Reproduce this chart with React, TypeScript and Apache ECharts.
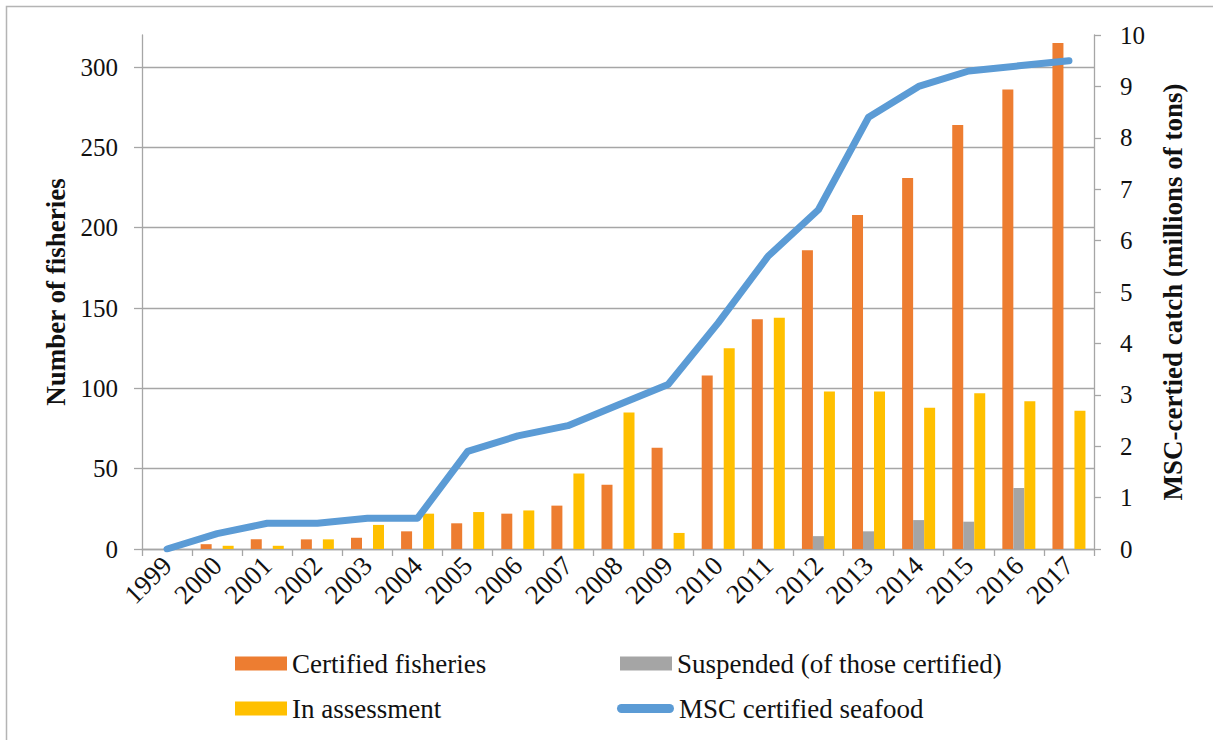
import React, { useEffect, useRef } from "react";
import * as echarts from "echarts";

const years = ["1999", "2000", "2001", "2002", "2003", "2004", "2005", "2006", "2007", "2008", "2009", "2010", "2011", "2012", "2013", "2014", "2015", "2016", "2017"];
const certified = [0, 3, 6, 6, 7, 11, 16, 22, 27, 40, 63, 108, 143, 186, 208, 231, 264, 286, 315];
const suspended = [0, 0, 0, 0, 0, 0, 0, 0, 0, 0, 0, 0, 0, 8, 11, 18, 17, 38, 0];
const inAssessment = [0, 2, 2, 6, 15, 22, 23, 24, 47, 85, 10, 125, 144, 98, 98, 88, 97, 92, 86];
const catchMt = [0, 0.3, 0.5, 0.5, 0.6, 0.6, 1.9, 2.2, 2.4, 2.8, 3.2, 4.4, 5.7, 6.6, 8.4, 9.0, 9.3, 9.4, 9.5];

const FONT = "'Liberation Serif', 'Times New Roman', serif";
const GRAY = "#a6a6a6";
const TXT = "#111";

export default function App() {
  const ref = useRef<HTMLDivElement>(null);
  useEffect(() => {
    if (!ref.current) return;
    const chart = echarts.init(ref.current, null, { renderer: "svg" });
    const legendBase = {
      orient: "horizontal",
      padding: 0,
      itemGap: 0,
      itemWidth: 52,
      itemHeight: 14,
      textStyle: { fontFamily: FONT, fontSize: 27, color: TXT },
      selectedMode: false,
    };
    chart.setOption({
      animation: false,
      backgroundColor: "#fff",
      textStyle: { fontFamily: FONT },
      graphic: [
        {
          type: "rect",
          shape: { x: 6.5, y: 6.5, width: 1300, height: 800 },
          style: { fill: "none", stroke: "#b4b4b4", lineWidth: 1.5 },
          silent: true,
        },
      ],
      grid: [
        { left: 142, right: 119, top: 35, bottom: 191, containLabel: false },
        { left: 142, right: 119, top: 67, bottom: 191, containLabel: false },
      ],
      legend: [
        { ...legendBase, left: 235, top: 650, data: [{ name: "Certified fisheries", icon: "rect" }] },
        { ...legendBase, left: 620, top: 650, data: [{ name: "Suspended (of those certified)", icon: "rect" }] },
        { ...legendBase, left: 235, top: 695, data: [{ name: "In assessment", icon: "rect" }] },
        {
          ...legendBase,
          left: 617,
          top: 695,
          itemWidth: 57,
          itemHeight: 9,
          data: [{ name: "MSC certified seafood", icon: "path://M4.5,0 L52.5,0 A4.5,4.5 0 0 1 52.5,9 L4.5,9 A4.5,4.5 0 0 1 4.5,0 Z" }],
        },
      ],
      xAxis: [
        {
          type: "category",
          gridIndex: 0,
          data: years,
          boundaryGap: true,
          axisLine: { show: true, lineStyle: { color: GRAY, width: 1.3 } },
          axisTick: { show: true, length: 7, lineStyle: { color: GRAY, width: 1.3 } },
          axisLabel: {
            rotate: 45,
            interval: 0,
            margin: 12,
            fontFamily: FONT,
            fontSize: 27,
            color: TXT,
          },
          splitLine: { show: false },
        },
        {
          type: "category",
          gridIndex: 1,
          data: years,
          show: false,
        },
      ],
      yAxis: [
        {
          type: "value",
          gridIndex: 0,
          min: 0,
          max: 320,
          interval: 40,
          position: "left",
          name: "Number of fisheries",
          nameLocation: "middle",
          nameGap: 73,
          nameTextStyle: { fontFamily: FONT, fontSize: 27, fontWeight: "bold", color: TXT },
          axisLine: { show: true, lineStyle: { color: GRAY, width: 1.3 } },
          axisTick: { show: false },
          axisLabel: { show: false },
          splitLine: { show: false },
        },
        {
          type: "value",
          gridIndex: 0,
          min: 0,
          max: 10,
          interval: 1,
          position: "right",
          name: "MSC-certied catch (millions of tons)",
          nameLocation: "middle",
          nameGap: 65,
          nameTextStyle: { fontFamily: FONT, fontSize: 27, fontWeight: "bold", color: TXT },
          axisLine: { show: true, lineStyle: { color: GRAY, width: 1.3 } },
          axisTick: { show: true, length: 7, lineStyle: { color: GRAY, width: 1.3 } },
          axisLabel: { margin: 26, fontFamily: FONT, fontSize: 25, color: TXT },
          splitLine: { show: false },
        },
        {
          type: "value",
          gridIndex: 1,
          min: 0,
          max: 300,
          interval: 50,
          position: "left",
          axisLine: { show: false },
          axisTick: { show: true, length: 8, lineStyle: { color: GRAY, width: 1.3 } },
          axisLabel: { margin: 24, fontFamily: FONT, fontSize: 25, color: TXT },
          splitLine: { show: true, lineStyle: { color: GRAY, width: 1.3 } },
        },
      ],
      series: [
        {
          name: "Certified fisheries",
          type: "bar",
          xAxisIndex: 0,
          yAxisIndex: 0,
          data: certified,
          barWidth: 11,
          barGap: "0%",
          itemStyle: { color: "#ED7D31" },
          z: 3,
        },
        {
          name: "Suspended (of those certified)",
          type: "bar",
          xAxisIndex: 0,
          yAxisIndex: 0,
          data: suspended,
          barWidth: 11,
          barGap: "0%",
          itemStyle: { color: "#A5A5A5" },
          z: 3,
        },
        {
          name: "In assessment",
          type: "bar",
          xAxisIndex: 0,
          yAxisIndex: 0,
          data: inAssessment,
          barWidth: 11,
          barGap: "0%",
          itemStyle: { color: "#FFC000" },
          z: 3,
        },
        {
          name: "MSC certified seafood",
          type: "line",
          xAxisIndex: 0,
          yAxisIndex: 1,
          data: catchMt,
          showSymbol: false,
          symbol: "none",
          lineStyle: { color: "#5B9BD5", width: 7, cap: "round", join: "round" },
          itemStyle: { color: "#5B9BD5" },
          z: 4,
        },
      ],
    });
    return () => chart.dispose();
  }, []);
  return <div ref={ref} style={{ position: "absolute", left: 0, top: 0, width: 1213, height: 740 }} />;
}
